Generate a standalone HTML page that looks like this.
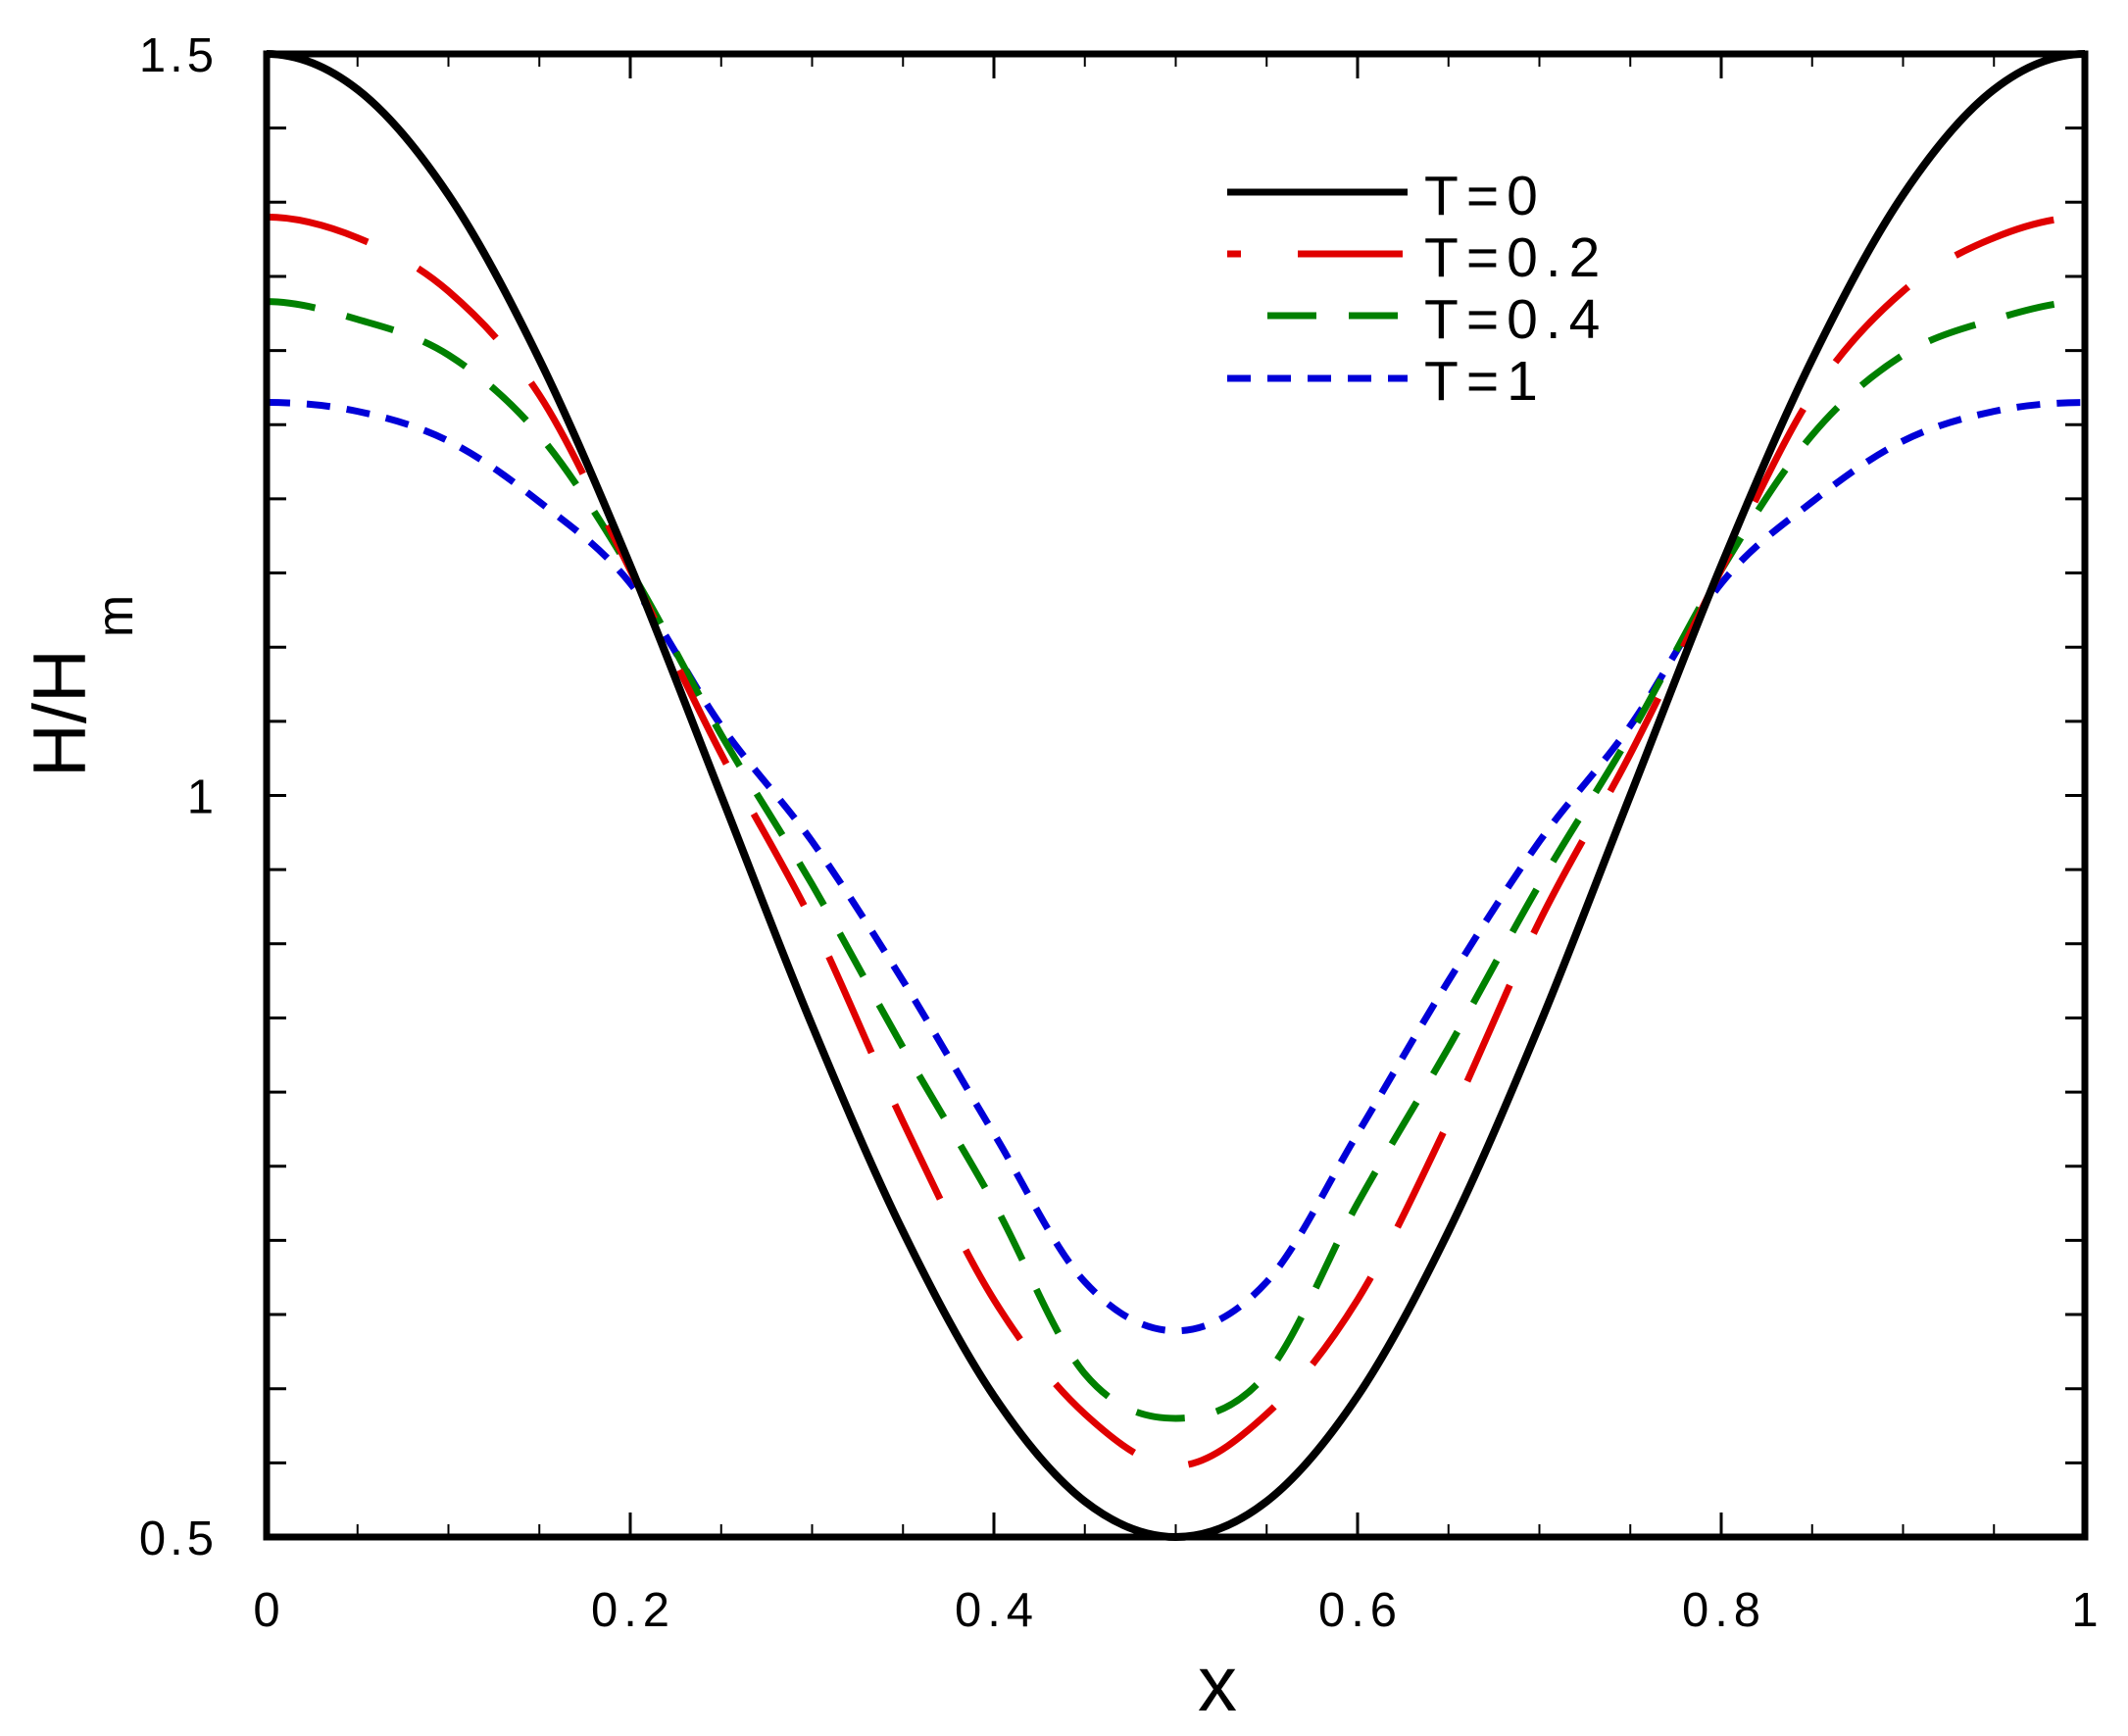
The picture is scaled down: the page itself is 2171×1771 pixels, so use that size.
<!DOCTYPE html>
<html><head><meta charset="utf-8"><style>
html,body{margin:0;padding:0;background:#fff;}
svg{display:block;font-family:"Liberation Sans",Arial,sans-serif;}
</style></head><body>
<svg id="chart" width="2171" height="1771" viewBox="0 0 2171 1771" xmlns="http://www.w3.org/2000/svg">
<rect x="0" y="0" width="2171" height="1771" fill="#fff"/>
<g id="ticks"></g>
<g id="series"></g>
<rect x="272" y="55" width="1855" height="1513" fill="none" stroke="#000" stroke-width="7"/>
<g id="labels" font-size="49" fill="#000"></g>
<text x="1242" y="1745" font-size="80" text-anchor="middle">x</text>
<text transform="translate(87,793) rotate(-90)" font-size="76">H/H<tspan dx="12" dy="48" font-size="52">m</tspan></text>
<g id="legend"></g>
</svg>
<script>
const xs = [0,0.05,0.1,0.15,0.2,0.25,0.3,0.35,0.4,0.45,0.5,0.55,0.6,0.65,0.7,0.75,0.8,0.85,0.9,0.95,1];
const seriesNames = ["T = 0","T = 0.2","T = 0.4","T = 1"];
const halfT0  = [1.5,1.476,1.405,1.294,1.155,1.0,0.845,0.706,0.595,0.524,0.5];
const halfT02 = [1.39,1.376,1.34,1.27,1.152,1.028,0.915,0.78,0.66,0.583,0.548];
const halfT04 = [1.333,1.321,1.297,1.243,1.152,1.041,0.94,0.83,0.725,0.61,0.58];
const halfT1  = [1.265,1.259,1.239,1.198,1.143,1.047,0.969,0.875,0.772,0.672,0.639];
const xTickLabels = ["0","0.2","0.4","0.6","0.8","1"];
const yTickLabels = ["0.5","1","1.5"];
function mirror(h){return h.concat(h.slice(0,-1).reverse());}
const valsT0 = mirror(halfT0), valsT02 = mirror(halfT02), valsT04 = mirror(halfT04), valsT1 = mirror(halfT1);

const NS="http://www.w3.org/2000/svg";
const X0=272,X1=2127,Y0=1568,Y1=55;
function sx(v){return X0+(X1-X0)*v;}
function sy(v){return Y0-(Y0-Y1)*(v-0.5)/1.0;}
function mk(tag,attrs,parent){const e=document.createElementNS(NS,tag);for(const k in attrs)e.setAttribute(k,attrs[k]);parent.appendChild(e);return e;}

const tg=document.getElementById('ticks');
for(let i=0;i<=20;i++){
  const v=i*0.05, x=sx(v), major=(i%4===0), len=major?25:13;
  let t=mk('line',{x1:x,y1:Y0,x2:x,y2:Y0-len,stroke:'#000','stroke-width':major?3:2},tg);
  
  
  t=mk('line',{x1:x,y1:Y1,x2:x,y2:Y1+len,stroke:'#000','stroke-width':major?3:2},tg);
  
  
}
for(let i=0;i<=20;i++){
  const v=0.5+i*0.05, y=sy(v);
  let t=mk('line',{x1:X0,y1:y,x2:X0+20,y2:y,stroke:'#000','stroke-width':3},tg);
  
  
  t=mk('line',{x1:X1,y1:y,x2:X1-20,y2:y,stroke:'#000','stroke-width':3},tg);
  
  
}
const lg=document.getElementById('labels');
xTickLabels.forEach((s)=>{
  const t=mk('text',{x:sx(parseFloat(s))+3,y:1659,'text-anchor':'middle','letter-spacing':6},lg);
  t.textContent=s;
  
  
});
yTickLabels.forEach((s)=>{
  const t=mk('text',{x:222,y:sy(parseFloat(s))+18,'text-anchor':'end','letter-spacing':4},lg);
  t.textContent=s;
  
  
});

function pathFor(vals){
  const p=xs.map((x,i)=>[sx(x),sy(vals[i])]);
  const n=p.length;
  // reflective ghost points so tangents at the ends are horizontal
  const ghostL=[2*p[0][0]-p[1][0],p[1][1]];
  const ghostR=[2*p[n-1][0]-p[n-2][0],p[n-2][1]];
  const q=[ghostL].concat(p,[ghostR]);
  let d='M'+p[0][0]+','+p[0][1];
  for(let i=1;i<q.length-2;i++){
    const a=q[i-1],b=q[i],c=q[i+1],e=q[i+2];
    const c1=[b[0]+(c[0]-a[0])/6,b[1]+(c[1]-a[1])/6];
    const c2=[c[0]-(e[0]-b[0])/6,c[1]-(e[1]-b[1])/6];
    d+=' C'+c1[0]+','+c1[1]+' '+c2[0]+','+c2[1]+' '+c[0]+','+c[1];
  }
  return d;
}
const styles=[
  {vals:valsT0,color:'#000',dash:'',name:'line-t0'},
  {vals:valsT02,color:'#e00000',dash:'107 58',name:'line-t0-2'},
  {vals:valsT04,color:'#008000',dash:'50 33',name:'line-t0-4'},
  {vals:valsT1,color:'#0000d8',dash:'24 17',name:'line-t1'}
];
const sg=document.getElementById('series');
for(let k=styles.length-1;k>=0;k--){
  const s=styles[k];
  const el=mk('path',{d:pathFor(s.vals),fill:'none',stroke:s.color,'stroke-width':k===0?8:7},sg);
  if(s.dash)el.setAttribute('stroke-dasharray',s.dash);
  
  
}
const leg=document.getElementById('legend');
const rowsY=[196,259,322,386], baseY=[219,282,345,408];
styles.forEach((s,i)=>{
  let l;
  if(i===1){
    l=mk('line',{x1:1252,y1:rowsY[i],x2:1266,y2:rowsY[i],stroke:s.color,'stroke-width':7},leg);
    
    
    l=mk('line',{x1:1324,y1:rowsY[i],x2:1431,y2:rowsY[i],stroke:s.color,'stroke-width':7},leg);
  } else if(i===2){
    l=mk('line',{x1:1293,y1:rowsY[i],x2:1343,y2:rowsY[i],stroke:s.color,'stroke-width':7},leg);
    
    
    l=mk('line',{x1:1376,y1:rowsY[i],x2:1426,y2:rowsY[i],stroke:s.color,'stroke-width':7},leg);
  } else {
    l=mk('line',{x1:1252,y1:rowsY[i],x2:1436,y2:rowsY[i],stroke:s.color,'stroke-width':7},leg);
    if(s.dash)l.setAttribute('stroke-dasharray',s.dash);
  }
  
  
  const t=mk('text',{x:1453,y:baseY[i],'font-size':57,'letter-spacing':8},leg);
  t.textContent=seriesNames[i].replace(/ /g,'');
  
  
});
</script>
</body></html>
